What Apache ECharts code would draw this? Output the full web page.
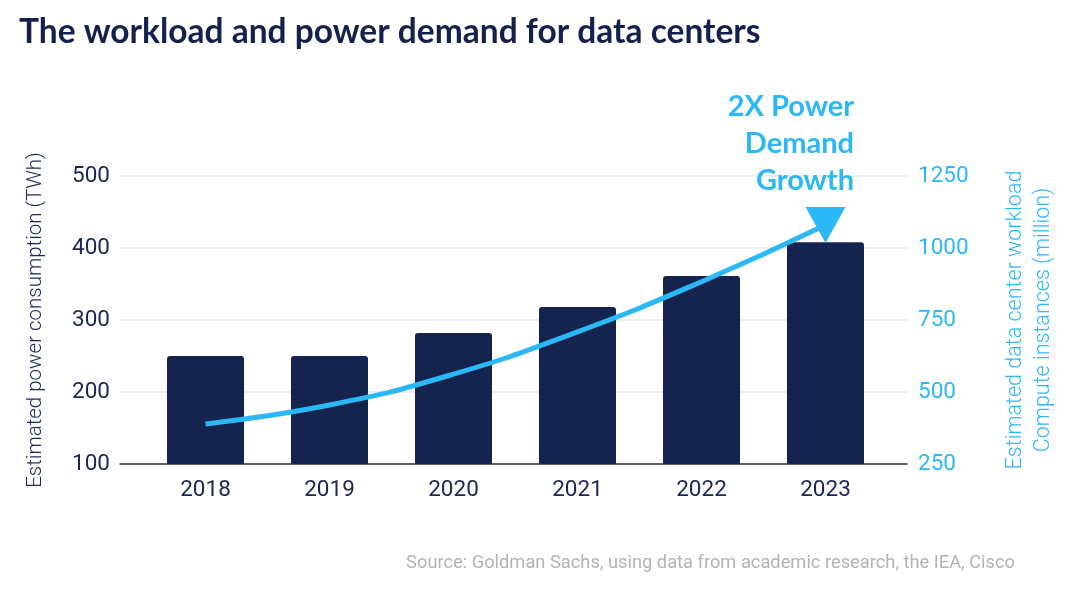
<!DOCTYPE html>
<html><head><meta charset="utf-8">
<script src="https://cdn.jsdelivr.net/npm/echarts@6/dist/echarts.min.js"></script>
<style>html,body{margin:0;padding:0;background:#fff}#c{width:1080px;height:608px}</style>
</head><body><div id="c"></div>
<script>
const years = ['2018','2019','2020','2021','2022','2023'];
const powerTWh = [250, 250, 282, 318, 361, 408];
const workloadMillion = [389, 455, 562, 709, 883, 1080];
const leftTicks = {min:100, max:500, interval:100};
const rightTicks = {min:250, max:1250, interval:250};

const NAVY = '#15244f';
const BLUE = '#2bb8f7';
const chart = echarts.init(document.getElementById('c'));
const lineData = workloadMillion.map((v,i)=> i===workloadMillion.length-1
  ? {value:v, symbol:'triangle', symbolSize:[40,36], symbolRotate:180, itemStyle:{color:BLUE}}
  : {value:v, symbol:'none'});
chart.setOption({
  animation:false,
  title:[
    {text:'The workload and power demand for data centers', left:14, top:10,
     textStyle:{fontFamily:'Lato', fontWeight:'bold', fontSize:33.5, color:'#14214d'}},
    {text:'Source: Goldman Sachs, using data from academic research, the IEA, Cisco', right:60, top:549,
     textStyle:{fontFamily:'Roboto', fontWeight:'normal', fontSize:18.3, color:'#b3b3b3'}}
  ],
  graphic:[
    {type:'text', x:854, y:88, z:10,
     style:{text:'2X Power\nDemand\nGrowth', align:'right', verticalAlign:'top',
       font:'bold 29px Lato', lineHeight:37, fill:BLUE}}
  ],
  grid:[
    {left:120, top:176, width:787, height:288},
    {left:143.5, top:176, width:744, height:288}
  ],
  xAxis:[
    {gridIndex:0, type:'category', data:[''], axisLine:{lineStyle:{color:'#333', width:1.5}},
     axisTick:{show:false}, axisLabel:{show:false}, splitLine:{show:false}},
    {gridIndex:1, type:'category', data:years, axisLine:{show:false}, axisTick:{show:false},
     axisLabel:{color:'#1b2653', fontSize:22.5, fontFamily:'Roboto', margin:15}}
  ],
  yAxis:[
    {gridIndex:0, type:'value', position:'left', min:leftTicks.min, max:leftTicks.max, interval:leftTicks.interval,
     axisLine:{show:false}, axisTick:{show:false},
     axisLabel:{color:'#1b2653', fontSize:22.5, fontFamily:'Roboto', margin:10},
     splitLine:{lineStyle:{color:'#e8e8e8', width:1.5}},
     name:'Estimated power consumption (TWh)', nameLocation:'middle', nameGap:74,
     nameTextStyle:{color:'#1b2653', fontSize:20.5, fontFamily:'Roboto', fontWeight:300}},
    {gridIndex:0, type:'value', position:'right', min:rightTicks.min, max:rightTicks.max, interval:rightTicks.interval,
     axisLine:{show:false}, axisTick:{show:false},
     axisLabel:{color:BLUE, fontSize:22.5, fontFamily:'Roboto', margin:11, formatter:(v)=>String(v)},
     splitLine:{show:false},
     name:'Estimated data center workload\nCompute instances (million)', nameLocation:'middle', nameGap:95,
     nameTextStyle:{color:BLUE, fontSize:21.5, fontFamily:'Roboto', fontWeight:300, lineHeight:28}},
    {gridIndex:1, type:'value', min:leftTicks.min, max:leftTicks.max, show:false},
    {gridIndex:1, type:'value', min:rightTicks.min, max:rightTicks.max, show:false}
  ],
  series:[
    {type:'bar', xAxisIndex:1, yAxisIndex:2, data:powerTWh, barWidth:77,
     itemStyle:{color:NAVY, borderRadius:[3,3,0,0]}},
    {type:'line', xAxisIndex:1, yAxisIndex:3, data:lineData, smooth:true, showSymbol:true,
     lineStyle:{color:BLUE, width:5}, itemStyle:{color:BLUE}, z:5}
  ]
});
</script></body></html>
